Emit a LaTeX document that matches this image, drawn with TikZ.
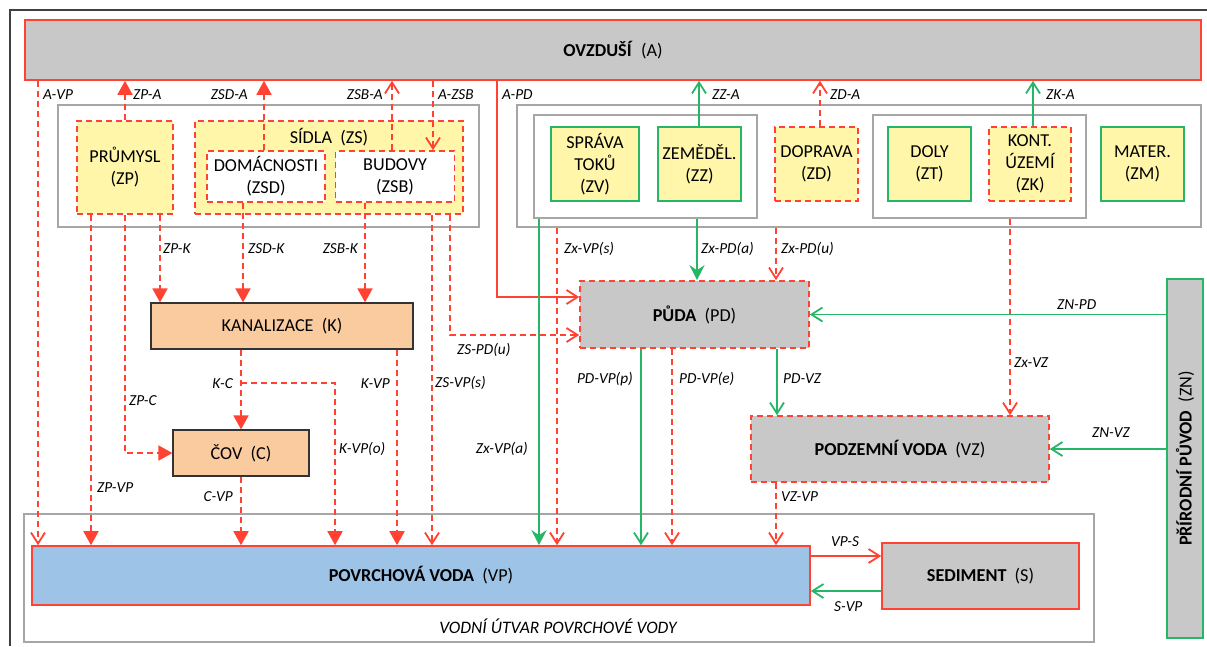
\documentclass[tikz,border=0pt]{standalone}
\usepackage{fontspec}
\setmainfont{Carlito}
\usetikzlibrary{arrows.meta,positioning}
\definecolor{flowred}{RGB}{255,66,50}
\definecolor{flowgreen}{RGB}{38,182,104}
\definecolor{srcyellow}{RGB}{255,246,170}
\definecolor{cmpgray}{RGB}{200,200,200}
\definecolor{sewpeach}{RGB}{251,203,160}
\definecolor{waterblue}{RGB}{157,195,230}
\definecolor{grpgray}{RGB}{166,166,166}
\definecolor{framegray}{RGB}{64,64,64}

\begin{document}
\begin{tikzpicture}[
    x=1pt, y=-1pt,
    font=\fontsize{18.2}{22}\selectfont,
    sz/.style 2 args={minimum width=#1pt, minimum height=#2pt},
    grp/.style={draw=grpgray, line width=1.4pt, fill=white, inner sep=0pt},
    src/.style={fill=srcyellow, line width=1.6pt, align=center, inner sep=0pt},
    srcr/.style={src, draw=flowred, dash pattern=on 6pt off 4pt},
    srcg/.style={src, draw=flowgreen},
    cmp/.style={fill=cmpgray, line width=1.6pt, align=center, inner sep=0pt},
    cmpr/.style={cmp, draw=flowred},
    cmpd/.style={cmp, draw=flowred, dash pattern=on 6pt off 4pt},
    sew/.style={fill=sewpeach, draw=black!80, line width=1.2pt, align=center, inner sep=0pt},
    lbl/.style={font=\fontsize{15.3}{18}\selectfont\itshape, inner sep=0pt},
    rdf/.style={draw=flowred, line width=1.8pt, dash pattern=on 6pt off 4pt, -{Triangle[length=14pt,width=15pt]}},
    rdo/.style={draw=flowred, line width=1.8pt, dash pattern=on 6pt off 4pt, -{Straight Barb[length=11pt,width=14pt]}},
    rso/.style={draw=flowred, line width=1.8pt, -{Straight Barb[length=11pt,width=14pt]}},
    gso/.style={draw=flowgreen, line width=1.8pt, -{Straight Barb[length=11pt,width=14pt]}},
    gsf/.style={draw=flowgreen, line width=1.8pt, -{Stealth[length=15pt,width=15pt,inset=5pt]}}
  ]
  \useasboundingbox (0,0) rectangle (1207,646);
  \draw[framegray, line width=1.5pt] (10,646) -- (10,10) -- (1207,10);

  % compartments and sources
  \node[cmpr, sz={1176}{60}] (a) at (613,50) {\textbf{OVZDUŠÍ}\ \ (A)};
  \node[grp, sz={421}{122}] (gz) at (268.5,166) {};
  \node[srcr, sz={96}{93}] (zp) at (125,167.5) {PRŮMYSL\\(ZP)};
  \node[srcr, sz={268}{93}] (zs) at (329,167.5) {};
  \node (zst) at (329,137) {SÍDLA\ \ (ZS)};
  \node[srcr, fill=white, sz={118}{51}] (zsd) at (266,176.5) {DOMÁCNOSTI\\(ZSD)};
  \node[srcr, fill=white, sz={119}{51}, right=9pt of zsd] (zsb) {BUDOVY\\(ZSB)};
  \node[grp, sz={684}{122}] (gs) at (859,166) {};
  \node[grp, sz={223}{103}] (gs1) at (645.5,166.5) {};
  \node[srcg, sz={88}{74}] (zv) at (595,164) {SPRÁVA\\TOKŮ\\(ZV)};
  \node[srcg, sz={83}{74}] (zz) at (699.5,164) {ZEMĚDĚL.\\(ZZ)};
  \node[srcr, sz={83}{74}] (zd) at (816.5,164) {DOPRAVA\\(ZD)};
  \node[grp, sz={213}{103}] (gs2) at (979.5,166.5) {};
  \node[srcg, sz={83}{74}] (zt) at (929.5,164) {DOLY\\(ZT)};
  \node[srcr, sz={82}{74}] (zk) at (1030,164) {KONT.\\ÚZEMÍ\\(ZK)};
  \node[srcg, sz={83}{74}] (zm) at (1142.5,164) {MATER.\\(ZM)};
  \node[sew, sz={262}{46}] (k) at (282,326) {KANALIZACE\ \ (K)};
  \node[sew, sz={136}{46}] (c) at (241,453) {ČOV\ \ (C)};
  \node[cmpd, sz={229}{67}] (pd) at (694.5,314.5) {\textbf{PŮDA}\ \ (PD)};
  \node[cmpd, sz={298}{66}] (vz) at (900,449) {\textbf{PODZEMNÍ VODA}\ \ (VZ)};
  \node[cmp, draw=flowgreen, sz={36}{359}] (zn) at (1185,458.5) {};
  \node[rotate=90] (znt) at (zn) {\textbf{PŘÍRODNÍ PŮVOD}\ \ (ZN)};
  \node[grp, sz={1070}{128}] (gv) at (559,578) {};
  \node[lbl, font=\fontsize{17.5}{20}\selectfont\itshape] (gvt) at (558,626) {VODNÍ ÚTVAR POVRCHOVÉ VODY};
  \node[cmpr, fill=waterblue, sz={778}{59}] (vp) at (421,575.5) {\textbf{POVRCHOVÁ VODA}\ \ (VP)};
  \node[cmpr, sz={197}{66}] (s) at (980.5,576) {\textbf{SEDIMENT}\ \ (S)};

  % flows
  \draw[rdo] (a.south -| 38,0) -- (vp.north -| 38,0);
  \draw[rdf] (zp.north) -- (a.south -| zp.north);
  \draw[rdf] (zsd.north -| 264,0) -- (a.south -| 264,0);
  \draw[rdo] (zsb.north -| 392,0) -- (a.south -| 392,0);
  \draw[rdo] (a.south -| 433,0) -- (zsb.north -| 433,0);
  \draw[rso] (a.south -| 497,0) |- ([yshift=17.5pt]pd.west);
  \draw[gso] (zz.north -| 699,0) -- (a.south -| 699,0);
  \draw[rdo] (zd.north -| 820,0) -- (a.south -| 820,0);
  \draw[gso] (zk.north -| 1033,0) -- (a.south -| 1033,0);
  \draw[rdf] (zp.south -| 91,0) -- (vp.north -| 91,0);
  \draw[rdf] (zp.south) |- (c.west);
  \draw[rdf] (zp.south -| 160,0) -- (k.north -| 160,0);
  \draw[rdf] (zsd.south -| 243,0) -- (k.north -| 243,0);
  \draw[rdf] (zsb.south -| 365,0) -- (k.north -| 365,0);
  \draw[rdf] (k.south -| c.north) -- (c.north);
  \coordinate (kc) at (241,383);
  \draw[rdf] (kc) -| (vp.north -| 335,0);
  \draw[rdf] (k.south -| 397,0) -- (vp.north -| 397,0);
  \draw[rdf] (c.south) -- (vp.north -| c.south);
  \draw[rdo] (zs.south -| 432,0) -- (vp.north -| 432,0);
  \draw[rdo] (zs.south -| 450,0) |- ([yshift=-20.5pt]pd.west);
  \draw[rdo] (gs.south -| 557,0) -- (vp.north -| 557,0);
  \draw[gsf] (gs1.south -| 539,0) -- (vp.north -| 539,0);
  \draw[gsf] (gs1.south -| 697,0) -- (pd.north -| 697,0);
  \draw[rdo] (gs.south -| 776,0) -- (pd.north -| 776,0);
  \draw[rdo] (gs2.south -| 1010,0) -- (vz.north -| 1010,0);
  \draw[gso] (zn.west |- pd.east) -- (pd.east);
  \draw[gso] (pd.south -| 641,0) -- (vp.north -| 641,0);
  \draw[rdo] (pd.south -| 672,0) -- (vp.north -| 672,0);
  \draw[gso] (pd.south -| 777,0) -- (vz.north -| 777,0);
  \draw[gso] (zn.west |- vz.east) -- (vz.east);
  \draw[rdo] (vz.south -| 776,0) -- (vp.north -| 776,0);
  \coordinate (vps) at ([yshift=19.5pt]vp.east);
  \coordinate (svp) at ([yshift=-15pt]s.west);
  \draw[rso] (vps) -- (vps -| s.west);
  \draw[gso] (svp) -- (svp -| vp.east);

  % flow labels
  \node[lbl, anchor=west] (lavp) at (43,95) {A-VP};
  \node[lbl, anchor=west] (lzpa) at (133,95) {ZP-A};
  \node[lbl, anchor=east] (lzsda) at (248,95) {ZSD-A};
  \node[lbl, anchor=east] (lzsba) at (383,95) {ZSB-A};
  \node[lbl, anchor=west] (lazsb) at (438,95) {A-ZSB};
  \node[lbl, anchor=west] (lapd) at (502,95) {A-PD};
  \node[lbl, anchor=west] (lzza) at (712,95) {ZZ-A};
  \node[lbl, anchor=west] (lzda) at (830,95) {ZD-A};
  \node[lbl, anchor=west] (lzka) at (1046,95) {ZK-A};
  \node[lbl, anchor=west] (lzpk) at (163,249) {ZP-K};
  \node[lbl, anchor=west] (lzsdk) at (248,249) {ZSD-K};
  \node[lbl, anchor=east] (lzsbk) at (358,249) {ZSB-K};
  \node[lbl, anchor=west] (lzxvps) at (564,249) {Zx-VP(s)};
  \node[lbl, anchor=west] (lzxpda) at (701,249) {Zx-PD(a)};
  \node[lbl, anchor=west] (lzxpdu) at (781,249) {Zx-PD(u)};
  \node[lbl, anchor=west] (lznpd) at (1057,305) {ZN-PD};
  \node[lbl, anchor=west] (lzspdu) at (457,350) {ZS-PD(u)};
  \node[lbl, anchor=west] (lzxvz) at (1014,363) {Zx-VZ};
  \node[lbl, anchor=east] (lkc) at (233,384) {K-C};
  \node[lbl, anchor=east] (lkvp) at (390,384) {K-VP};
  \node[lbl, anchor=west] (lzsvps) at (435,383) {ZS-VP(s)};
  \node[lbl, anchor=east] (lpdvpp) at (633,379) {PD-VP(p)};
  \node[lbl, anchor=west] (lpdvpe) at (679,379) {PD-VP(e)};
  \node[lbl, anchor=west] (lpdvz) at (783,379) {PD-VZ};
  \node[lbl, anchor=west] (lzpc) at (129,401) {ZP-C};
  \node[lbl, anchor=west] (lzvnz) at (1092,433) {ZN-VZ};
  \node[lbl, anchor=west] (lkvpo) at (339,449) {K-VP(o)};
  \node[lbl, anchor=east] (lzxvpa) at (528,449) {Zx-VP(a)};
  \node[lbl, anchor=west] (lzpvp) at (97,488) {ZP-VP};
  \node[lbl, anchor=east] (lcvp) at (233,497) {C-VP};
  \node[lbl, anchor=west] (lvzvp) at (781,497) {VZ-VP};
  \node[lbl, anchor=west] (lvps) at (831,542) {VP-S};
  \node[lbl, anchor=west] (lsvp) at (834,607) {S-VP};
\end{tikzpicture}
\end{document}
